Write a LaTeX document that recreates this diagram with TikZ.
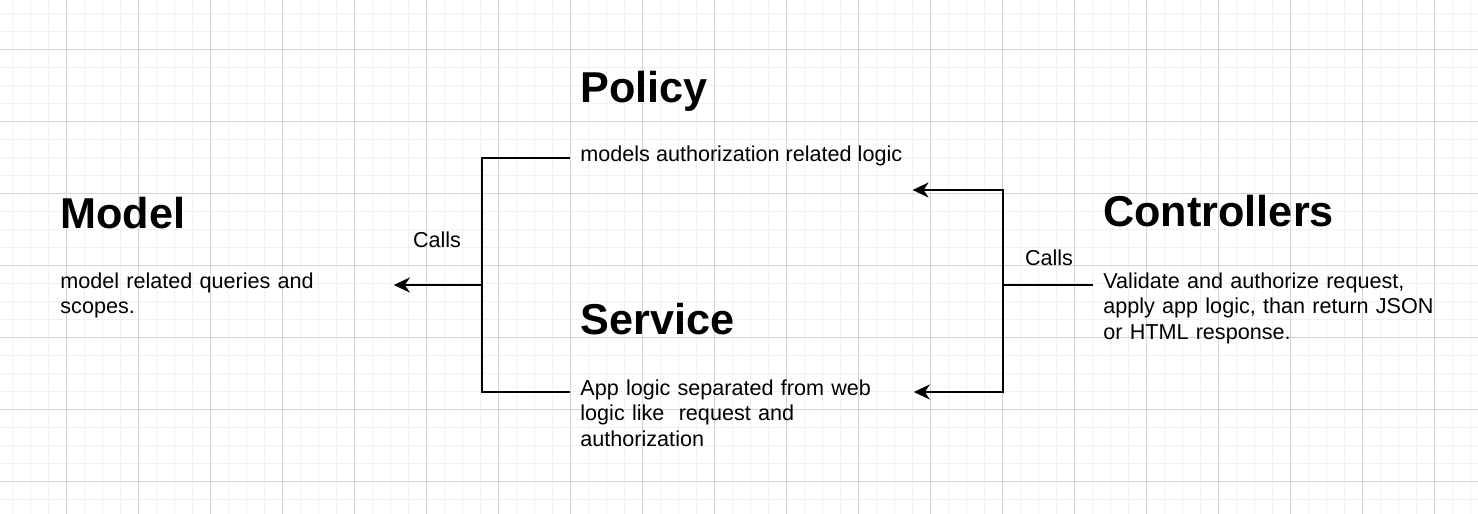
\documentclass[tikz,border=0pt]{standalone}
\usepackage{fontspec}
\setmainfont{Liberation Sans}
\usetikzlibrary{arrows.meta}
\definecolor{gridminor}{HTML}{F1F1F1}
\definecolor{gridmajor}{HTML}{D3D3D3}
\begin{document}
\begin{tikzpicture}[x=0.5pt, y=-0.5pt,
    minorline/.style ={gridminor, line width=0.5pt},
    majorline/.style ={gridmajor, line width=0.5pt},
    heading/.style ={anchor=base west, inner sep=0pt, font=\fontsize{21.6}{26}\selectfont\bfseries},
    blurb/.style ={anchor=base west, inner xsep=5pt, inner ysep=0pt, align=left, font=\fontsize{10.8}{12.75}\selectfont},
    calls/.style ={anchor=base, inner sep=0pt, font=\fontsize{10.8}{13}\selectfont},
    link/.style ={line width=1pt},
    arrow/.style ={line width=1pt, -{Stealth[length=8pt, width=7.5pt, inset=2.5pt]}}]
   \useasboundingbox (0,0) rectangle (1478,514);
   \fill[white] (0,0) rectangle (1478,514);
   \foreach \k in {0,...,81} \draw[minorline] ({12.5+18*\k},0) -- ++(0,514);
   \foreach \k in {0,...,27} \draw[minorline] (0,{13.5+18*\k}) -- ++(1478,0);
   \foreach \k in {0,...,19} \draw[majorline] ({66.5+72*\k},0) -- ++(0,514);
   \foreach \k in {0,...,6} \draw[majorline] (0,{49.5+72*\k}) -- ++(1478,0);

   \node[heading] (modelhead)   at (60,228)   {Model};
   \node[heading] (policyhead)  at (580,102)  {Policy};
   \node[heading] (servicehead) at (580,334)  {Service};
   \node[heading] (ctrlhead)    at (1103,226) {Controllers};

   \node[blurb, text width=161.5pt] (modeltext) at (50,288) {model related queries and\\scopes.};
   \node[blurb] (policytext) at (570,161) {models authorization related logic};
   \node[blurb, text width=161.5pt] (servicetext) at (570,395) {App logic separated from web\\logic like\ \ request and\\authorization};
   \node[blurb, text width=170pt] (ctrltext) at (1093,288) {Validate and authorize request,\\apply app logic, than return JSON\\or HTML response.};

   \node[calls] (leftcalls)  at (437,247)  {Calls};
   \node[calls] (rightcalls) at (1049,265) {Calls};

   \coordinate (leftjoin)  at (482,285);
   \coordinate (rightjoin) at (1003,285);
   \draw[link] ([yshift=1.5pt]policytext.base west) -| (leftjoin);
   \draw[link] ([yshift=1.5pt]servicetext.base west) -| (leftjoin);
   \draw[arrow] (leftjoin) -- ([yshift=1.5pt]modeltext.base east);
   \draw[link] ([yshift=1.5pt]ctrltext.base west) -- (rightjoin);
   \draw[arrow] (rightjoin) |- ([yshift=-14.5pt]policytext.base east);
   \draw[arrow] (rightjoin) |- ([yshift=1.5pt]servicetext.base east);
\end{tikzpicture}
\end{document}
